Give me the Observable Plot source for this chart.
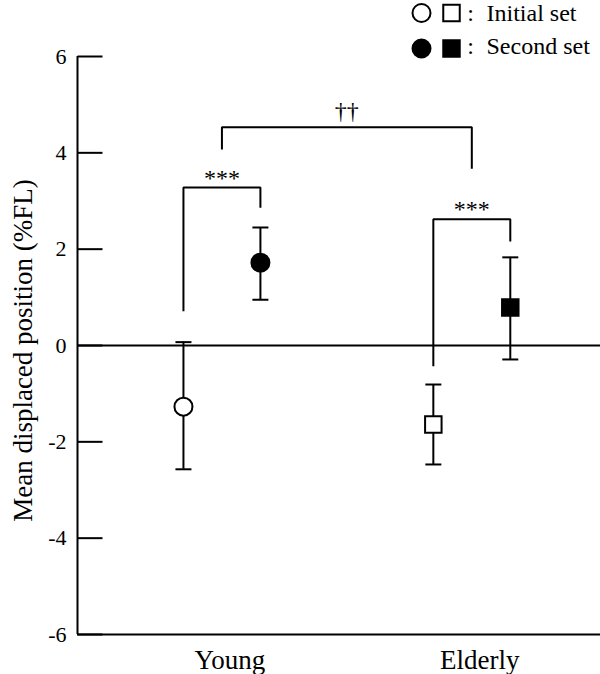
<!DOCTYPE html>
<html><head><meta charset="utf-8">
<script src="https://cdn.jsdelivr.net/npm/d3@7"></script>
<script src="https://cdn.jsdelivr.net/npm/@observablehq/plot@0.6"></script>
<style>
html,body{margin:0;padding:0;background:#fff;}
</style></head><body><div id="chart"></div>
<script>
// ---- data ----
const groups = ["Young", "Elderly"];
const sets = ["Initial set", "Second set"];
const meanInitial  = [-1.27, -1.64];
const upperInitial = [0.07, -0.81];
const lowerInitial = [-2.57, -2.47];
const meanSecond   = [1.72, 0.79];
const upperSecond  = [2.45, 1.83];
const lowerSecond  = [0.95, -0.29];
const yTicks = [-6, -4, -2, 0, 2, 4, 6];
const yLabel = "Mean displaced position (%FL)";

// significance brackets
const withinLabels = ["***", "***"];
const withinTop = [3.28, 2.62];
const withinInitialEnd = [0.71, -0.43];
const withinSecondEnd = [2.86, 2.16];
const betweenLabel = "††";
const betweenTop = 4.53;
const betweenEnds = [4.07, 3.67];

// legend
const legendLabels = ["Initial set", "Second set"];
const legendFills = ["white", "black"];

// ---- derived tables ----
const groupPos = groups.map((g, i) => i + 1);
const setOffset = [-0.154, 0.154];
const groupSymbol = ["circle", "square"];
const setFill = ["white", "black"];

const points = groups.flatMap((g, i) => sets.map((s, j) => ({
  group: g, set: s,
  x: groupPos[i] + setOffset[j],
  mean: j ? meanSecond[i] : meanInitial[i],
  hi: j ? upperSecond[i] : upperInitial[i],
  lo: j ? lowerSecond[i] : lowerInitial[i],
  symbol: groupSymbol[i],
  fill: setFill[j]
})));

const bracketPts = [];
groups.forEach((g, i) => {
  const xa = groupPos[i] + setOffset[0], xb = groupPos[i] + setOffset[1];
  bracketPts.push({id: "w" + i, x: xa, y: withinInitialEnd[i]});
  bracketPts.push({id: "w" + i, x: xa, y: withinTop[i]});
  bracketPts.push({id: "w" + i, x: xb, y: withinTop[i]});
  bracketPts.push({id: "w" + i, x: xb, y: withinSecondEnd[i]});
});
bracketPts.push({id: "b", x: groupPos[0], y: betweenEnds[0]});
bracketPts.push({id: "b", x: groupPos[0], y: betweenTop});
bracketPts.push({id: "b", x: groupPos[1], y: betweenTop});
bracketPts.push({id: "b", x: groupPos[1], y: betweenEnds[1]});

const withinText = groups.map((g, i) => ({x: groupPos[i], y: withinTop[i], text: withinLabels[i]}));
const betweenText = [{x: (groupPos[0] + groupPos[1]) / 2, y: betweenTop, text: betweenLabel}];

const capSymbol = {draw(ctx) { ctx.moveTo(-8, 0); ctx.lineTo(8, 0); }};
const tickSymbol = {draw(ctx) { ctx.moveTo(0, 0); ctx.lineTo(25, 0); }};

const font = "Liberation Serif";
const xDomain = [0.422, 2.515];

const legendMarks = [];
legendLabels.forEach((lab, k) => {
  const cy = k === 0 ? -43.5 : -8;
  const by = k === 0 ? -35.5 : -3;
  legendMarks.push(Plot.dot([0], {frameAnchor: "top-left", dx: 344, dy: cy, r: 9, symbol: "circle", fill: legendFills[k], stroke: "black", strokeWidth: 2}));
  legendMarks.push(Plot.dot([0], {frameAnchor: "top-left", dx: 374, dy: cy, r: 9.3, symbol: "square", fill: legendFills[k], stroke: "black", strokeWidth: 2}));
  legendMarks.push(Plot.text([":"], {text: d => d, frameAnchor: "top-left", dx: 393, dy: by, lineAnchor: "bottom", textAnchor: "middle", fontSize: 24, fontFamily: font}));
  legendMarks.push(Plot.text([lab], {text: d => d, frameAnchor: "top-left", dx: 409, dy: by, lineAnchor: "bottom", textAnchor: "start", fontSize: 24, fontFamily: font}));
});

const chart = Plot.plot({
  width: 600, height: 674,
  marginLeft: 77, marginRight: 0, marginTop: 56, marginBottom: 40,
  style: {fontFamily: font, background: "white", color: "black", overflow: "visible"},
  x: {domain: xDomain},
  y: {domain: [-6, 6]},
  marks: [
    Plot.axisY({ticks: yTicks, tickSize: 0, tickPadding: 11, fontSize: 22, fontFamily: font, label: null, tickFormat: d => String(d)}),
    Plot.axisX({ticks: groupPos, tickFormat: d => groups[d - 1], tickSize: 0, tickPadding: 15, dx: 8, fontSize: 27, fontFamily: font, label: null}),
    Plot.dot(yTicks, {x: () => xDomain[0], y: d => d, symbol: tickSymbol, fill: "none", stroke: "black", strokeWidth: 2}),
    Plot.ruleX([xDomain[0]], {y1: -6, y2: 6, stroke: "black", strokeWidth: 2}),
    Plot.ruleY([-6], {stroke: "black", strokeWidth: 2}),
    Plot.ruleY([0], {stroke: "black", strokeWidth: 2}),
    Plot.line(bracketPts, {x: "x", y: "y", z: "id", stroke: "black", strokeWidth: 2, strokeLinecap: "butt", strokeLinejoin: "miter"}),
    Plot.text(withinText, {x: "x", y: "y", text: "text", lineAnchor: "bottom", dy: -2, fontSize: 24, fontFamily: font}),
    Plot.text(betweenText, {x: "x", y: "y", text: "text", lineAnchor: "bottom", dy: -8, fontSize: 24, fontFamily: font, fill: "black"}),
    Plot.ruleX(points, {x: "x", y1: "lo", y2: "hi", stroke: "black", strokeWidth: 2}),
    Plot.dot(points, {x: "x", y: "hi", symbol: capSymbol, fill: "none", stroke: "black", strokeWidth: 2}),
    Plot.dot(points, {x: "x", y: "lo", symbol: capSymbol, fill: "none", stroke: "black", strokeWidth: 2}),
    Plot.dot(points.filter(d => d.symbol === "circle"), {x: "x", y: "mean", symbol: "circle", fill: "fill", stroke: "black", strokeWidth: 2, r: 9}),
    Plot.dot(points.filter(d => d.symbol === "square"), {x: "x", y: "mean", symbol: "square", fill: "fill", stroke: "black", strokeWidth: 2, r: 9.3}),
    Plot.text([yLabel], {text: d => d, frameAnchor: "left", rotate: -90, dx: -46, dy: 5, lineAnchor: "bottom", textAnchor: "middle", fontSize: 27, fontFamily: font}),
    ...legendMarks
  ]
});
document.getElementById("chart").appendChild(chart);
</script>
</body></html>
